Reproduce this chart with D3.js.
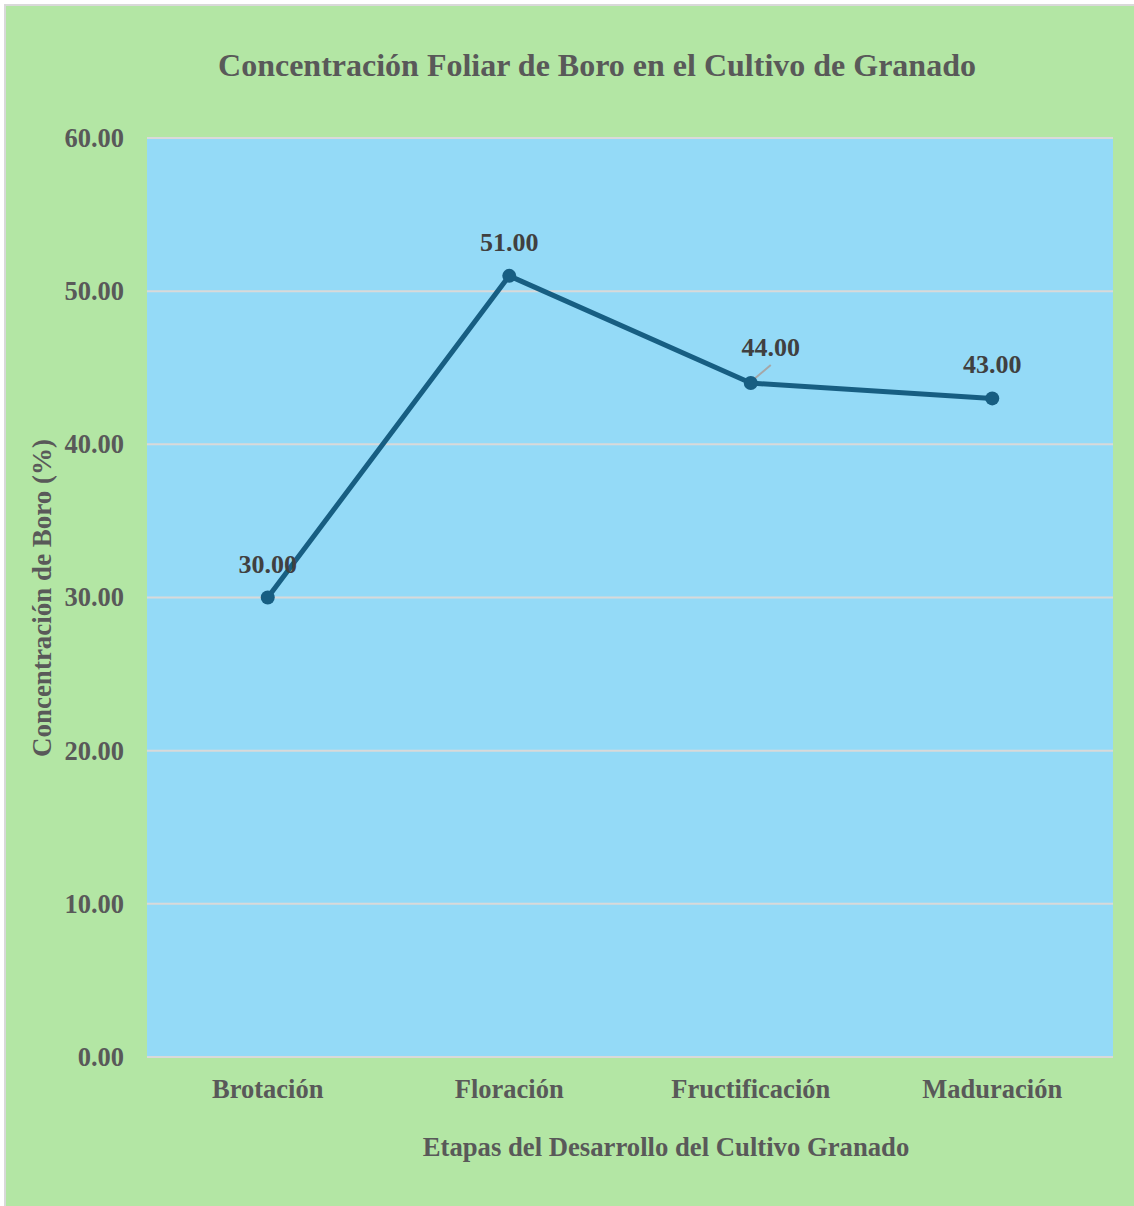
<!DOCTYPE html>
<html><head><meta charset="utf-8">
<script src="https://cdn.jsdelivr.net/npm/d3@7"></script>
<style>html,body{margin:0;padding:0;background:#fff}svg{display:block}</style>
</head><body>
<svg id="c" width="1134" height="1206"></svg>
<script>
const categories = ["Brotación","Floración","Fructificación","Maduración"];
const values = [30.00, 51.00, 44.00, 43.00];
const yTicks = [0,10,20,30,40,50,60];
const labelOffsets = [[0,-25],[0,-25],[20,-27],[0,-25]];

const svg = d3.select("#c");
const font = "'Liberation Serif','Times New Roman',serif";
svg.append("rect").attr("x",5).attr("y",5).attr("width",1140).attr("height",1210)
  .attr("fill","#b3e6a4").attr("stroke","#d9d9d9").attr("stroke-width",2);

const m = {l:147, r:1113, t:138, b:1057};
const x = d3.scaleBand().domain(categories).range([m.l,m.r]);
const y = d3.scaleLinear().domain([0,60]).range([m.b,m.t]);

svg.append("rect").attr("x",m.l).attr("y",m.t).attr("width",m.r-m.l).attr("height",m.b-m.t).attr("fill","#94daf7");

svg.append("g").selectAll("line").data(yTicks).join("line")
  .attr("x1",m.l).attr("x2",m.r).attr("y1",d=>y(d)).attr("y2",d=>y(d))
  .attr("stroke","#d9d9d9").attr("stroke-width",2);

const yAxis = svg.append("g").attr("transform",`translate(${m.l},0)`)
  .call(d3.axisLeft(y).tickValues(yTicks).tickFormat(d3.format(".2f")).tickSize(0).tickPadding(23));
yAxis.select(".domain").remove();
yAxis.selectAll("text").attr("font-family",font).attr("font-weight","bold").attr("font-size",26.5).attr("fill","#595959");

const xAxis = svg.append("g").attr("transform",`translate(0,${m.b})`)
  .call(d3.axisBottom(x).tickSize(0).tickPadding(22));
xAxis.select(".domain").remove();
xAxis.selectAll("text").attr("font-family",font).attr("font-weight","bold").attr("font-size",26.5).attr("fill","#595959");

const cx = d => x(d)+x.bandwidth()/2;
const pts = categories.map((c,i)=>[cx(c), y(values[i])]);

// leader line for Fructificación label
svg.append("line").attr("x1",pts[2][0]+1).attr("y1",pts[2][1]-2).attr("x2",pts[2][0]+20).attr("y2",pts[2][1]-18)
  .attr("stroke","#a6a6a6").attr("stroke-width",2);

svg.append("path").datum(pts).attr("d",d3.line()).attr("fill","none")
  .attr("stroke","#175e82").attr("stroke-width",5).attr("stroke-linejoin","round");
svg.append("g").selectAll("circle").data(pts).join("circle")
  .attr("cx",d=>d[0]).attr("cy",d=>d[1]).attr("r",7).attr("fill","#175e82");

svg.append("g").selectAll("text").data(values).join("text")
  .attr("x",(d,i)=>pts[i][0]+labelOffsets[i][0]).attr("y",(d,i)=>pts[i][1]+labelOffsets[i][1])
  .attr("text-anchor","middle").attr("font-family",font).attr("font-weight","bold").attr("font-size",26)
  .attr("fill","#404040").text(d=>d3.format(".2f")(d));

svg.append("text").attr("x",597).attr("y",76).attr("text-anchor","middle")
  .attr("font-family",font).attr("font-weight","bold").attr("font-size",32).attr("fill","#595959")
  .text("Concentración Foliar de Boro en el Cultivo de Granado");
svg.append("text").attr("x",666).attr("y",1156).attr("text-anchor","middle")
  .attr("font-family",font).attr("font-weight","bold").attr("font-size",26.7).attr("fill","#595959")
  .text("Etapas del Desarrollo del Cultivo Granado");
svg.append("text").attr("transform","translate(51,598) rotate(-90)").attr("text-anchor","middle")
  .attr("font-family",font).attr("font-weight","bold").attr("font-size",27).attr("fill","#595959")
  .text("Concentración de Boro (%)");
</script>
</body></html>
